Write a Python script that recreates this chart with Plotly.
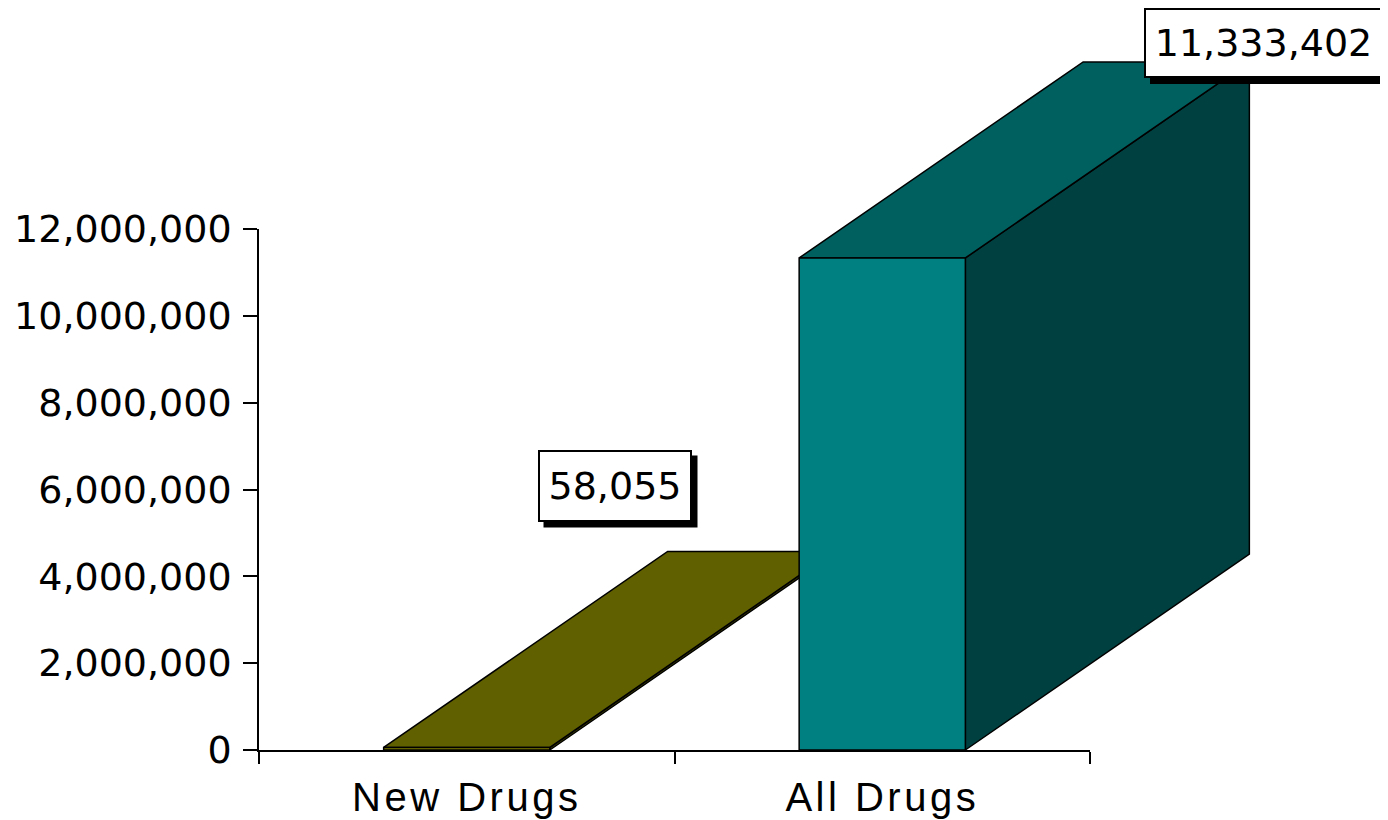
import plotly.graph_objects as go

# ---------------- data ----------------
categories = ["New Drugs", "All Drugs"]
values = [58055, 11333402]
y_tick_values = [0, 2000000, 4000000, 6000000, 8000000, 10000000, 12000000]
y_range = [0, 12000000]

# ---------------- style / geometry ----------------
PAGE_MARGIN = 8                                    # browser body margin
W, H = 1388 - PAGE_MARGIN, 820 - PAGE_MARGIN       # figure size
AX_L, AX_R, AX_B, AX_T = 259, 1090, 750, 229      # plot-area edges (screen px)
BAR_W = 0.4                                        # bar width (category units)
DEPTH_PX = (284, 196)                              # 3-D depth offset in pixels
face_colors = [
    {"front": "#808000", "top": "#606000", "side": "#404000"},
    {"front": "#008080", "top": "#006060", "side": "#004040"},
]
label_pos_px = [(614.5, 485.5), (1263.5, 43)]      # centres of value boxes (screen px)
label_size_px = [(150, 68), (235, 66)]
SHADOW = 6
FONT = "DejaVu Sans"


def px_x(sx):
    return (sx - PAGE_MARGIN) / W


def px_y(sy):
    return 1 - (sy - PAGE_MARGIN) / H


x_range = [0, len(categories)]
xd = [px_x(AX_L), px_x(AX_R)]
yd = [px_y(AX_B), px_y(AX_T)]

# full-figure axes aligned with the main scales (for the 3-D bar faces)
sx = (x_range[1] - x_range[0]) / (xd[1] - xd[0])
sy = (y_range[1] - y_range[0]) / (yd[1] - yd[0])
x2_range = [x_range[0] - xd[0] * sx, x_range[1] + (1 - xd[1]) * sx]
y2_range = [y_range[0] - yd[0] * sy, y_range[1] + (1 - yd[1]) * sy]
dx = DEPTH_PX[0] / W * sx
dy = DEPTH_PX[1] / H * sy

fig = go.Figure()


def face(xs, ys, color):
    fig.add_trace(go.Scatter(
        x=xs + [xs[0]], y=ys + [ys[0]], mode="lines", fill="toself",
        fillcolor=color, line=dict(color="black", width=1.5),
        xaxis="x2", yaxis="y2", hoverinfo="skip", showlegend=False))


for i, (cat, v) in enumerate(zip(categories, values)):
    c = i + 0.5
    x0, x1 = c - BAR_W / 2, c + BAR_W / 2
    col = face_colors[i]
    face([x1, x1 + dx, x1 + dx, x1], [0, dy, v + dy, v], col["side"])   # side
    face([x0, x1, x1 + dx, x0 + dx], [v, v, v + dy, v + dy], col["top"])  # top
    face([x0, x1, x1, x0], [0, 0, v, v], col["front"])                   # front

# invisible trace to set up the main axes
fig.add_trace(go.Scatter(x=[0.5, 1.5], y=[0, 0], mode="markers",
                         marker=dict(opacity=0), hoverinfo="skip",
                         showlegend=False, xaxis="x", yaxis="y"))

# value labels with drop shadows
for i, v in enumerate(values):
    lx, ly = label_pos_px[i]
    w, h = label_size_px[i]
    ow, oh = w + 4, h + 4                      # outer size incl. border
    fig.add_shape(type="rect", xref="paper", yref="paper",
                  x0=px_x(lx - ow / 2 + SHADOW), x1=px_x(lx + ow / 2 + SHADOW),
                  y0=px_y(ly + oh / 2 + SHADOW), y1=px_y(ly - oh / 2 + SHADOW),
                  fillcolor="black", line=dict(width=0), layer="above")
    fig.add_annotation(x=px_x(lx), y=px_y(ly), xref="paper", yref="paper",
                       text=f"{v:,}", showarrow=False, width=w, height=h,
                       borderwidth=2, borderpad=0, xanchor="center",
                       yanchor="middle", bgcolor="white", bordercolor="black",
                       font=dict(family=FONT, size=38, color="black"))

spaced = [f'<span style="letter-spacing:3.5px">{c}</span>' for c in categories]

fig.update_layout(
    width=W, height=H, autosize=False,
    margin=dict(l=0, r=0, t=0, b=0, pad=0, autoexpand=False),
    paper_bgcolor="white", plot_bgcolor="rgba(0,0,0,0)",
    showlegend=False,
    xaxis=dict(domain=xd, range=x_range, anchor="y", automargin=False,
               tickmode="array", tickvals=[0.5, 1.5], ticktext=spaced,
               ticks="", showline=True, linecolor="black", linewidth=1.5,
               showgrid=False, zeroline=False, ticklabelstandoff=11,
               tickfont=dict(family="Liberation Sans", size=40, color="black"),
               minor=dict(tickmode="array", tickvals=[0, 1, 2], ticks="outside",
                          ticklen=12, tickwidth=1.5, tickcolor="black")),
    yaxis=dict(domain=yd, range=y_range, anchor="x", automargin=False,
               tickmode="array", tickvals=y_tick_values, tickformat=",",
               ticks="outside", ticklen=14, tickwidth=1.5, tickcolor="black",
               showline=True, linecolor="black", linewidth=1.5,
               showgrid=False, zeroline=False, ticklabelstandoff=4,
               tickfont=dict(family=FONT, size=38, color="black")),
    xaxis2=dict(domain=[0, 1], range=x2_range, anchor="y2", visible=False,
                fixedrange=True, automargin=False),
    yaxis2=dict(domain=[0, 1], range=y2_range, anchor="x2", visible=False,
                fixedrange=True, automargin=False),
)

fig.write_html("out.html")
